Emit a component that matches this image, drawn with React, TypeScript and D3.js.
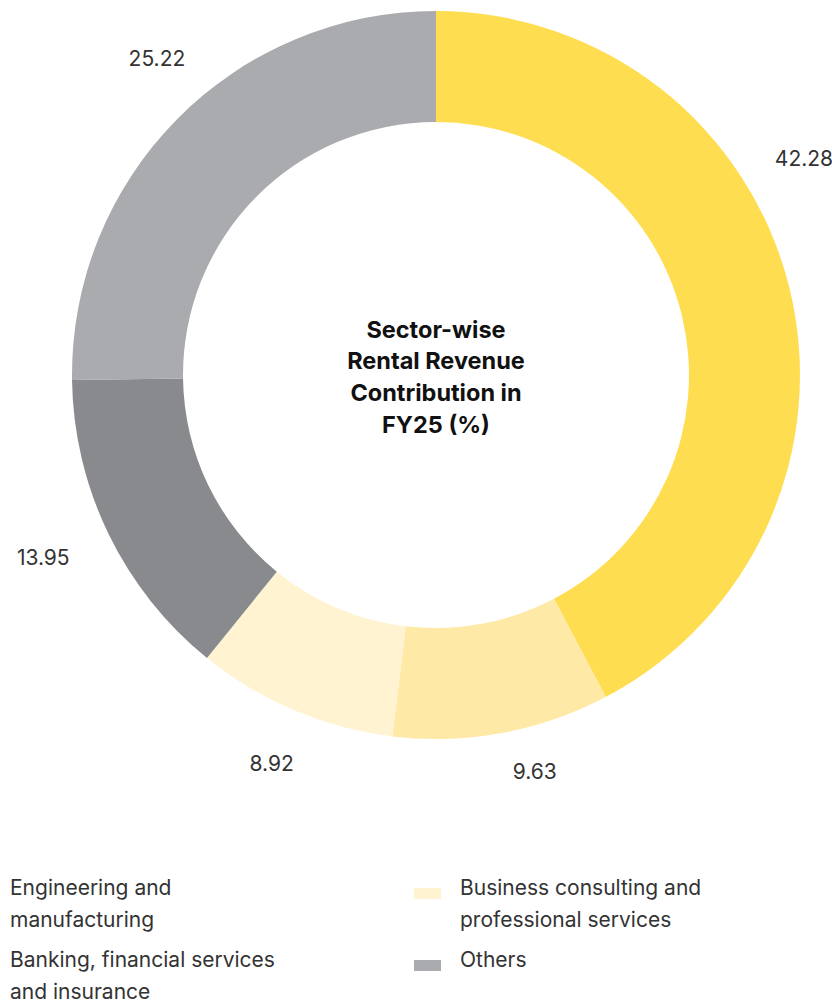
import React from "react";
import * as d3 from "d3";

const sliceValues = [42.28, 9.63, 8.92, 13.95, 25.22];
const sliceColors = ["#FFDD50", "#FFE9A6", "#FFF3D1", "#898A8D", "#AAABAE"];
const titleLines = ["Sector-wise", "Rental Revenue", "Contribution in", "FY25 (%)"];
const legendItems = [
  { lines: ["Engineering and", "manufacturing"], color: "#FFE9A6" },
  { lines: ["Business consulting and", "professional services"], color: "#FFF3D1" },
  { lines: ["Banking, financial services", "and insurance"], color: "#898A8D" },
  { lines: ["Others"], color: "#AAABAE" },
];

const W = 832;
const H = 1001;
const cx = 436;
const cy = 375;
const rOuter = 364;
const rInner = 253;
const labelR = 422;
const labelShiftDeg = [-16.6, -3.5, 0, 1, 4];
const labelRShift = [5, -13, 0, 11, 0];
const FONT = "Inter, 'Noto Sans', sans-serif";

export default function App() {
  const pie = d3.pie<number>().sort(null).value((d) => d).startAngle(0).endAngle(2 * Math.PI);
  const arcs = pie(sliceValues);
  const arc = d3.arc<d3.PieArcDatum<number>>().innerRadius(rInner).outerRadius(rOuter);

  const legendCols = [-36, 414];
  const legendRows = [883, 955];
  const lineH = 31.5;

  return (
    <svg width={W} height={H} style={{ position: "absolute", left: 0, top: 0, background: "#fff" }} fontFamily={FONT}>
      <g transform={`translate(${cx},${cy})`}>
        {arcs.map((a, i) => (
          <path key={i} d={arc(a) || ""} fill={sliceColors[i]} />
        ))}
        {arcs.map((a, i) => {
          const ang = (a.startAngle + a.endAngle) / 2 + (labelShiftDeg[i] * Math.PI) / 180;
          const r = labelR + labelRShift[i];
          const x = Math.sin(ang) * r;
          const y = -Math.cos(ang) * r;
          return (
            <text key={i} x={x} y={y} dy="0.35em" textAnchor="middle" fontSize={21} fill="#333">
              {a.data.toFixed(2)}
            </text>
          );
        })}
        {titleLines.map((t, i) => (
          <text
            key={i}
            x={0}
            y={(i - (titleLines.length - 1) / 2) * 31.7 + 2}
            dy="0.35em"
            textAnchor="middle"
            fontSize={23.5}
            fontWeight={700}
            fill="#111"
          >
            {t}
          </text>
        ))}
      </g>
      {legendItems.map((item, i) => {
        const col = i % 2;
        const row = Math.floor(i / 2);
        const x0 = legendCols[col];
        const y0 = legendRows[row];
        return (
          <g key={i}>
            <rect x={x0} y={y0 + 5} width={27} height={11} fill={item.color} />
            {item.lines.map((l, j) => (
              <text key={j} x={x0 + 46} y={y0 + 5 + j * lineH} dy="0.35em" fontSize={21} fill="#333">
                {l}
              </text>
            ))}
          </g>
        );
      })}
    </svg>
  );
}
